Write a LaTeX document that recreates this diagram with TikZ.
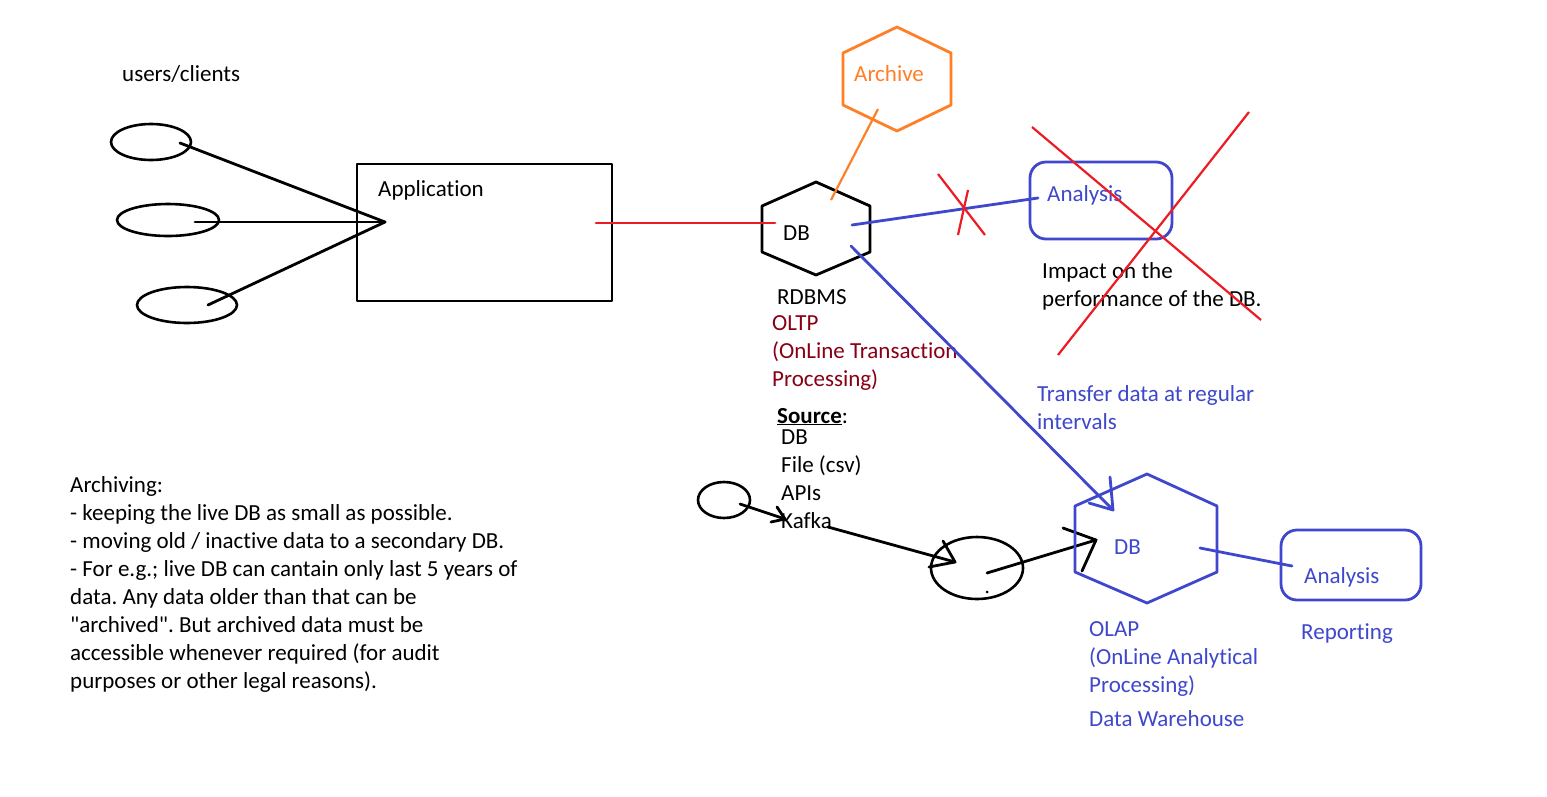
\documentclass[tikz,border=0pt]{standalone}
\usepackage{fontspec}
\newfontfamily\calib{Carlito}[Ligatures=NoCommon]
\definecolor{pblue}{HTML}{3F48CC}
\definecolor{pred}{HTML}{ED1C24}
\definecolor{porange}{HTML}{FF7F27}
\definecolor{pdred}{HTML}{880015}
\begin{document}
\frenchspacing
\begin{tikzpicture}[x=1pt,y=-1pt,
  txt/.style={anchor=base west, inner sep=0pt, font=\calib\fontsize{23}{28}\selectfont},
  ln/.style={line width=2.8pt, line cap=round, line join=round},
  thin/.style={line width=2.2pt},
  ell/.style={line width=2.6pt}]
\useasboundingbox[fill=white] (0,0) rectangle (1547,796);

% users / clients
\node[txt] (users) at (122,81) {users/clients};
\draw[ell] (151,142) ellipse [x radius=40, y radius=18];
\draw[ell] (168,220) ellipse [x radius=51, y radius=16];
\draw[ell] (187,305) ellipse [x radius=50, y radius=18];
\coordinate (u1) at (180,143);
\coordinate (u2) at (195,222);
\coordinate (u3) at (208,305);
\coordinate (apex) at (385,222);
\draw[ln] (u1) -- (apex);
\draw[ln] (u2) -- (apex);
\draw[ln] (u3) -- (apex);

% application
\draw[ln] (357,164) rectangle (612,301);
\node[txt] (app) at (378,196) {Application};
\coordinate (appR) at (596,223);

% OLTP DB hexagon
\draw[ln] (816,182) -- (870,206) -- (870,252) -- (816,275) -- (762,252) -- (762,206) -- cycle;
\node[txt] (db1) at (783,240) {DB};
\coordinate (dbL) at (775,223);
\draw[pred, ln] (appR) -- (dbL);

% Archive hexagon
\draw[porange, ln] (897,27) -- (951,53) -- (951,105) -- (897,131) -- (843,105) -- (843,53) -- cycle;
\node[txt, text=porange] (arch) at (854,81) {Archive};
\coordinate (a1) at (878,109);
\coordinate (a2) at (831,200);
\draw[porange, thin] (a1) -- (a2);

% Analysis (crossed)
\draw[pblue, ln, rounded corners=16] (1030,162) rectangle (1172,239);
\node[txt, text=pblue] (an1) at (1047,201) {Analysis};
\coordinate (b1) at (852,225);
\coordinate (b2) at (1038,198);
\draw[pblue, ln] (b1) -- (b2);
\coordinate (x1) at (938,174);
\coordinate (x2) at (985,235);
\coordinate (x3) at (968,190);
\coordinate (x4) at (958,235);
\draw[pred, thin] (x1) -- (x2);
\draw[pred, thin] (x3) -- (x4);
\node[txt] (imp1) at (1042,278) {Impact on the};
\node[txt] (imp2) at (1042,306) {performance of the DB.};
\coordinate (X1) at (1032,127);
\coordinate (X2) at (1261,320);
\coordinate (X3) at (1249,112);
\coordinate (X4) at (1058,355);
\draw[pred, thin] (X1) -- (X2);
\draw[pred, thin] (X3) -- (X4);

% RDBMS labels
\node[txt] (rdbms) at (777,304) {RDBMS};
\node[txt, text=pdred, align=left, anchor=north west] (oltp) at (772,315) {OLTP\\(OnLine Transaction\\Processing)};
\node[txt] (src) at (777,423) {\textbf{\underline{Source}}:};
\node[txt, align=left, anchor=north west] (srcl) at (781,430) {DB\\File (csv)\\APIs\\Kafka};

% transfer
\coordinate (t1) at (851,246);
\coordinate (t2) at (1113,510);
\draw[pblue, ln] (t1) -- (t2);
\draw[pblue, ln] (1110,477) -- (t2) -- (1089,503);
\node[txt, text=pblue, align=left, anchor=north west] (trans) at (1037,385) {Transfer data at regular\\intervals};

% source ellipse and arrows
\draw[ell] (724,500) ellipse [x radius=26, y radius=18];
\coordinate (s1) at (740,504);
\coordinate (s2) at (785,519);
\draw[ln] (s1) -- (s2);
\draw[ln] (777,507) -- (s2) -- (771,522);
\draw[ell] (977,568) ellipse [x radius=46, y radius=31];
\coordinate (k1) at (828,527);
\coordinate (k2) at (955,562);
\draw[ln] (k1) -- (k2);
\draw[ln] (943,541) -- (k2) -- (929,567);
\fill (987,592) circle [radius=1.5];
\coordinate (e1) at (987,573);
\coordinate (e2) at (1096,540);
\draw[ln] (e1) -- (e2);
\draw[ln] (1063,528) -- (e2) -- (1082,571);

% OLAP DB hexagon
\draw[pblue, ln] (1147,474) -- (1217,506) -- (1217,572) -- (1147,603) -- (1075,572) -- (1075,506) -- cycle;
\node[txt, text=pblue] (db2) at (1114,554) {DB};
\coordinate (o1) at (1200,548);
\coordinate (o2) at (1292,566);
\draw[pblue, ln] (o1) -- (o2);
\draw[pblue, ln, rounded corners=16] (1281,530) rectangle (1421,600);
\node[txt, text=pblue] (an2) at (1304,583) {Analysis};
\node[txt, text=pblue] (rep) at (1301,639) {Reporting};
\node[txt, text=pblue, align=left, anchor=north west] (olap) at (1089,621) {OLAP\\(OnLine Analytical\\Processing)};
\node[txt, text=pblue] (dw) at (1089,726) {Data Warehouse};

% archiving notes
\node[txt, align=left, anchor=north west] (notes) at (70,476) {Archiving:\\- keeping the live DB as small as possible.\\- moving old / inactive data to a secondary DB.\\- For e.g.; live DB can cantain only last 5 years of\\data. Any data older than that can be\\"archived". But archived data must be\\accessible whenever required (for audit\\purposes or other legal reasons).};
\end{tikzpicture}
\end{document}
